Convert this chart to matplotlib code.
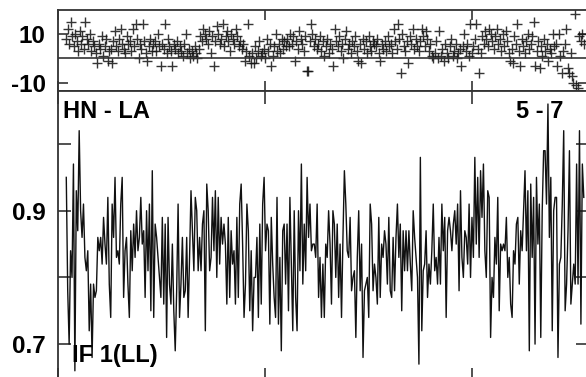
import numpy as np
import matplotlib.pyplot as plt

plt.rcParams['font.family'] = ['Liberation Sans', 'DejaVu Sans']
plt.rcParams['font.weight'] = 'bold'
plt.rcParams['axes.unicode_minus'] = False

baseline = 'HN - LA'
channels = '5 - 7'
stokes = 'IF 1(LL)'

# observation span in hours
t_start, t_end = 0.04, 2.54

# phase (degrees)
phase = [
    8, 12, 6, 15, 9, 5, 10, 7, 3, 11, 6, 9, 4, 15, 8, 6, 10, 3, 7, 5, 2, -2, 6, 4, 9, 1, 5, 8, -1, 3,
    4, -2, 7, 11, 5, 3, 8, 12, 6, 4, 2, 9, 6, 7, 3, 12, 5, 14, 8, 0, 6, 4, 14, 7, 2, -1, 5, 8, 3, 6,
    7, 3, 10, 5, -3, 6, 4, 14, 2, 8, 5, 3, -3, 6, 4, 7, 2, 5, 3, 1, 6, 10, 2, 4, 0, 3, 1, 5, 2, 0,
    4, 9, 7, 12, 10, 8, 6, 11, 2, 9, -3, 7, 13, 10, 6, 8, 14, 5, 9, 11, 7, 3, 10, 8, 6, 12, 9, 5, 7, 4,
    6, -1, 3, 14, 1, -2, 2, -2, 5, 0, 3, 7, 1, 2, 4, 0, 8, 3, 6, -3, 1, 5, 10, 3, 6, 2, 8, 4, 7, 5,
    8, 5, 10, 6, 9, -1, 7, 4, 11, 8, 6, 3, 9, -5, -5, 7, 14, 10, 5, 8, 4, 6, 9, 3, 7, 1, 5, 8, 2, 6,
    4, -3, 12, 7, 5, 9, 3, 6, 0, 8, 11, 4, 6, 2, 7, 5, 9, 3, -1, 6, -2, 8, 4, 7, 2, 9, 5, 3, 7, 6,
    5, 8, 2, -1, 6, 4, 7, 3, 9, 5, 6, 2, 12, 7, 4, 14, 8, -6, 10, 5, 3, 7, -2, 9, 6, 12, 4, 8, 5, 3,
    7, 12, 9, 5, 11, 8, 3, 6, 1, 0, 2, 7, 0, 11, 1, 4, -1, 6, 2, 0, 5, 8, 1, 3, 6, 0, 2, 4, -3, 5,
    10, 3, 6, 1, 14, 2, 5, 8, 14, 4, -6, 2, 9, 6, 11, 8, 5, 12, 10, 7, 4, 9, 12, 6, 8, 3, 10, 5, 11, 7,
    2, -1, 4, -2, 9, 6, 14, 3, -3, 8, 5, 2, 7, 10, 4, 6, 9, 15, -3, 3, 7, -4, 5, 1, 8, 3, 6, -1, 4, 2,
    10, 5, 6, -3, 10, 1, -6, 3, 6, 12, -4, -6, 2, -7, -10, 18, -11, -12, 9, 7, 10, 6,
]

# amplitude (Jy)
amp = [
    0.95, 0.78, 0.70, 0.84, 0.80, 0.97, 0.66, 0.93, 0.87, 1.02, 0.90, 0.86, 0.91, 0.83, 0.81, 0.84, 0.72,
    0.79, 0.68, 0.79, 0.77, 0.78, 0.86, 0.84, 0.86, 0.82, 0.89, 0.85, 0.82, 0.92, 0.79, 0.74, 0.91, 0.86,
    0.95, 0.83, 0.84, 0.82, 0.91, 0.95, 0.77, 0.84, 0.86, 0.79, 0.74, 0.87, 0.81, 0.88, 0.83, 0.90, 0.84, 0.86,
    0.92, 0.85, 0.87, 0.77, 0.90, 0.81, 0.91, 0.75, 0.96, 0.74, 0.88, 0.86, 0.83, 0.80, 0.77, 0.89, 0.76,
    0.88, 0.71, 0.89, 0.79, 0.76, 0.85, 0.75, 0.69, 0.78, 0.91, 0.74, 0.79, 0.86, 0.77, 0.78, 0.86, 0.74,
    0.83, 0.93, 0.87, 0.81, 0.92, 0.90, 0.81, 0.86, 0.81, 0.88, 0.90, 0.72, 0.94, 0.90, 0.81, 0.83, 0.92,
    0.84, 0.93, 0.80, 0.92, 0.82, 0.89, 0.85, 0.88,
    0.85, 0.76, 0.89, 0.77, 0.87, 0.82, 0.84, 0.76, 0.89, 0.77, 0.91, 0.94, 0.85, 0.74, 0.79, 0.91, 0.87,
    0.75, 0.84, 0.72, 0.80, 0.80, 0.86, 0.74, 0.88, 0.76, 0.91, 0.95, 0.84, 0.88, 0.87, 0.73, 0.89, 0.82,
    0.77, 0.74, 0.92, 0.73, 0.83, 0.69, 0.87, 0.88, 0.79, 0.88, 0.75, 0.92, 0.82, 0.72, 0.90, 0.77, 0.72,
    0.90, 0.81, 0.97, 0.79, 0.88, 0.81, 0.95, 0.86, 0.91, 0.84, 0.85,
    0.85, 0.83, 0.91, 0.77, 0.83, 0.74, 0.82, 0.74, 0.85, 0.83, 0.90, 0.85, 0.76, 0.90, 0.88, 0.80, 0.88,
    0.77, 0.85, 0.74, 0.86, 0.96, 0.91, 0.84, 0.83, 0.89, 0.78, 0.80, 0.81, 0.71, 0.83, 0.90, 0.78, 0.85,
    0.68, 0.78, 0.79, 0.80, 0.74, 0.91, 0.88, 0.78, 0.82, 0.80, 0.76, 0.89, 0.77, 0.85, 0.83, 0.87, 0.85,
    0.79, 0.89, 0.78, 0.77, 0.86, 0.78, 0.86, 0.91, 0.83, 0.88, 0.75, 0.87, 0.81, 0.87,
    0.81, 0.87, 0.82, 0.78, 0.90, 0.86, 0.83, 0.80, 0.67, 0.98, 0.72, 0.81, 0.82, 0.87, 0.77, 0.82, 0.79,
    0.84, 0.91, 0.81, 0.83, 0.79, 0.86, 0.79, 0.91, 0.84, 0.89, 0.74, 0.87, 0.89, 0.87, 0.84, 0.88, 0.90,
    0.85, 0.91, 0.78, 0.93, 0.83, 0.80, 0.87, 0.86, 0.82, 0.91, 0.80, 0.89, 0.83, 0.98, 0.85, 0.95, 0.83,
    0.96, 0.89, 0.97, 0.84, 0.80, 0.93, 0.92, 0.71, 0.80, 0.77, 0.86, 0.82, 0.92, 0.75, 0.85, 0.84,
    0.85, 0.84, 0.89, 0.80, 0.83, 0.76, 0.74, 0.84, 0.82, 0.88, 0.89, 0.79, 0.87, 0.84, 0.90, 0.96, 0.84,
    0.93, 0.69, 0.94, 0.83, 0.92, 0.70, 0.95, 0.85, 0.91, 0.71, 0.90, 0.99, 0.99, 0.91, 1.06, 0.86, 0.95,
    0.72, 0.90, 0.92, 0.92, 0.68, 0.82, 0.83, 0.91, 1.02, 0.75, 0.79, 0.87, 0.99, 0.76, 0.79, 0.82, 0.79,
    0.97, 0.79, 1.02, 0.73, 0.97, 0.92,
]

phase_ticks = [-10, 10]
amp_ticks = [0.7, 0.8, 0.9, 1.0]
amp_labels = ['0.7', '', '0.9', '']
time_ticks = [0, 1, 2]

t_ph = np.linspace(t_start, t_end, len(phase))
t_amp = np.linspace(t_start, t_end, len(amp))

W, H = 586, 377
fig = plt.figure(figsize=(W / 100, H / 100), dpi=100)
ax1 = fig.add_axes([58 / W, 1 - 91 / H, 530 / W, 81 / H])
ax2 = fig.add_axes([58 / W, 1 - 380 / H, 530 / W, 289 / H])

spine_col = '#333333'
for ax in (ax1, ax2):
    for s in ax.spines.values():
        s.set_color(spine_col)
        s.set_linewidth(1.3)
    ax.set_xlim(0, 530 / 207)
    ax.set_xticks(time_ticks)
    ax.set_xticklabels([])
    ax.tick_params(axis='x', direction='in', top=True, bottom=True, color=spine_col, width=1.2)
    ax.tick_params(axis='y', direction='in', left=True, right=True, color=spine_col, width=1.2,
                   labelsize=17.5, pad=9)

ax1.plot(t_ph, phase, '+', color='#111111', ms=7.5, mew=1.0, alpha=0.85)
ax1.axhline(0, color=spine_col, lw=1.2)
ax1.set_ylim(-13.3, 19.7)
ax1.set_yticks(phase_ticks)
ax1.tick_params(axis='both', length=7)

ax2.plot(t_amp, amp, color='#111111', lw=1.0)
ax2.set_ylim(0.6462, 1.0795)
ax2.set_yticks(amp_ticks)
ax2.set_yticklabels(amp_labels)
ax2.tick_params(axis='both', length=9)

ax2.text(0.0094, 0.9066, baseline, transform=ax2.transAxes, fontsize=17,
         fontweight='bold', ha='left', va='baseline')
ax2.text(0.864, 0.9066, channels, transform=ax2.transAxes, fontsize=17,
         fontweight='bold', ha='left', va='baseline')
ax2.text(0.0264, 0.0623, stokes, transform=ax2.transAxes, fontsize=17,
         fontweight='bold', ha='left', va='baseline')

fig.savefig('out.png', dpi=100)
